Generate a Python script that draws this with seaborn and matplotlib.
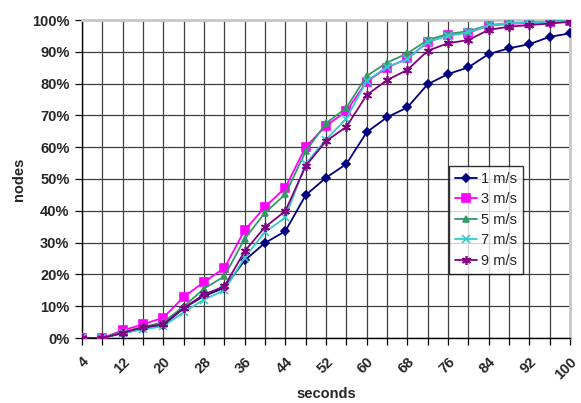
import numpy as np
import pandas as pd
import matplotlib
matplotlib.use("Agg")
import matplotlib.pyplot as plt
import matplotlib.transforms as mtransforms
import seaborn as sns

# tempo (secondi), un punto ogni 4 s
secondi = [4, 8, 12, 16, 20, 24, 28, 32, 36, 40, 44, 48, 52,
           56, 60, 64, 68, 72, 76, 80, 84, 88, 92, 96, 100]

# percentuale di nodi per velocita'
v1 = [0, 0, 1.5, 3.0, 4.0, 9.4, 13.2, 15.8, 24.4, 29.9, 33.6, 44.9, 50.4,
      54.7, 64.7, 69.4, 72.5, 79.8, 83.0, 85.1, 89.3, 91.1, 92.4, 94.7, 95.8]
v3 = [0, 0, 2.4, 4.3, 6.4, 12.9, 17.6, 22.0, 33.9, 41.2, 47.3, 60.1, 66.7,
      71.3, 80.6, 85.0, 87.9, 93.0, 95.3, 96.0, 98.2, 98.8, 99.0, 99.4, 99.8]
v5 = [0, 0, 2.0, 3.4, 5.0, 9.9, 15.5, 19.4, 31.2, 39.4, 45.2, 58.7, 67.5,
      72.4, 82.4, 86.6, 89.5, 93.7, 95.6, 96.5, 98.4, 99.0, 99.2, 99.5, 99.9]
v7 = [0, 0, 1.5, 2.7, 3.7, 8.1, 12.1, 15.0, 25.3, 33.3, 37.9, 54.8, 62.4,
      69.0, 80.8, 85.3, 87.6, 93.2, 95.0, 96.1, 98.3, 99.0, 99.2, 99.4, 99.8]
v9 = [0, 0, 1.6, 3.4, 4.3, 9.4, 13.7, 16.2, 27.3, 34.9, 39.9, 54.1, 61.9,
      66.4, 76.4, 81.1, 84.3, 90.3, 92.7, 93.7, 96.9, 97.9, 98.4, 98.9, 99.4]

etichette = ["1 m/s", "3 m/s", "5 m/s", "7 m/s", "9 m/s"]
serie = [v1, v3, v5, v7, v9]
colori = ["#000080", "#FF00FF", "#339966", "#33CCCC", "#800080"]
marcatori = ["D", "s", "^", "x", (6, 2, 0)]
dimensioni = [4.5, 5.5, 5, 6, 6.5]

sns.set_style("white")
plt.rcParams['font.family'] = ['Liberation Sans', 'DejaVu Sans']

fig = plt.figure(figsize=(5.81, 4.03), dpi=100)
ax = fig.add_axes([82 / 581, 1 - 338 / 403, 488 / 581, 318 / 403])

for nome, valori, colore, m, ms in zip(etichette, serie, colori, marcatori, dimensioni):
    df = pd.DataFrame({"secondi": secondi, "nodi": valori})
    sns.lineplot(data=df, x="secondi", y="nodi", ax=ax, color=colore,
                 marker=m, markersize=ms, markeredgecolor=colore,
                 markerfacecolor=colore, markeredgewidth=1.2,
                 linewidth=1.3, label=nome, zorder=3)

ax.set_xlim(4, 100)
ax.set_ylim(0, 100)
ax.set_yticks(range(0, 101, 10))
ax.set_yticklabels([f"{t}%" for t in range(0, 101, 10)], fontsize=10.5, fontweight="bold")
ax.set_xticks(secondi[::2])
ax.set_xticks(secondi[1::2], minor=True)
ax.set_xticklabels([str(s) for s in secondi[::2]], fontsize=10.5, fontweight="bold",
                   rotation=45, ha="right", rotation_mode="anchor")

# sposta le etichette ruotate un po' a sinistra, come in Excel
sposta = mtransforms.ScaledTranslation(-6 / 72, 0, fig.dpi_scale_trans)
for lab in ax.get_xticklabels():
    lab.set_transform(lab.get_transform() + sposta)

ax.grid(True, which="both", color="#404040", linewidth=0.9, zorder=0)
ax.tick_params(axis="x", which="both", direction="out", length=5, width=0.9,
               color="black", pad=7, bottom=True)
ax.tick_params(axis="y", direction="out", length=5, width=0.9, color="black",
               pad=4, left=True)

for lato in ["left", "bottom"]:
    ax.spines[lato].set_color("black")
    ax.spines[lato].set_linewidth(1.0)
for lato in ["top", "right"]:
    ax.spines[lato].set_color("#c8c8c8")
    ax.spines[lato].set_linewidth(2)

ax.set_xlabel("seconds", fontsize=10.5, fontweight="bold", labelpad=4)
ax.set_ylabel("nodes", fontsize=10.5, fontweight="bold", labelpad=4)

leg = ax.legend(loc="upper left", bbox_to_anchor=(0.752, 0.541),
                fontsize=10.5, frameon=True, fancybox=False,
                handlelength=1.5, handletextpad=0.3, borderpad=0.4,
                labelspacing=0.45, borderaxespad=0, shadow=False)
leg.get_frame().set_edgecolor("black")
leg.get_frame().set_linewidth(1.0)

fig.savefig("out.png", dpi=100)
